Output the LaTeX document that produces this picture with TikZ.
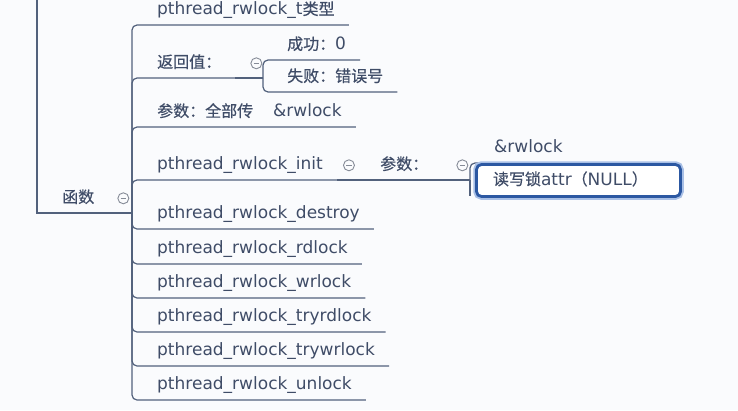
\documentclass[tikz,border=0pt]{standalone}
\usepackage{fontspec}
\setmainfont{DejaVu Sans}
\newfontfamily\cjk[FakeBold=0.4]{Noto Sans CJK SC}
\usetikzlibrary{positioning,backgrounds}

\definecolor{linecol}{HTML}{52617C}
\definecolor{textcol}{HTML}{3F4C67}
\definecolor{foldcol}{HTML}{858B97}
\definecolor{selblue}{HTML}{2C58A2}
\definecolor{glowblue}{HTML}{A9C0E6}
\definecolor{bgcol}{HTML}{FAFBFD}
\newcommand{\zh}[1]{{\cjk\fontsize{16}{20}\selectfont #1}}

\begin{document}
\begin{tikzpicture}[x=1pt, y=-1pt,
    topic/.style = {anchor=south west, inner xsep=14pt, inner ysep=8pt, text height=12pt, text depth=3pt, text=textcol, font=\fontsize{17}{20}\selectfont},
    fold/.style = {circle, draw=foldcol, line width=0.9pt, minimum size=11pt, inner sep=0pt,
        path picture={\draw[foldcol, line width=0.9pt] ([xshift=-2.8pt]path picture bounding box.center) -- ([xshift=2.8pt]path picture bounding box.center);}},
    selected/.style = {topic, outer sep=0pt, draw=selblue, line width=2.8pt, rounded corners=5pt, fill=white, preaction={draw=glowblue, line width=6.5pt},
        text width=171pt, inner xsep=16.5pt, minimum height=32pt, align=left},
    link/.style = {draw=linecol, line width=1.2pt, rounded corners=5pt}]
    \useasboundingbox (0,0) rectangle (738,410);

    % junctions
    \coordinate (up) at (37,-2);
    \coordinate (fnj) at (132,213);
    \coordinate (retj) at (263,78);
    \coordinate (argj) at (470,180);

    % left branch
    \node[topic] (fn) at (48,214) {\zh{函数}};
    \node[fold] (fnfold) [right=9pt of fn.east] {};

    \node[topic] (ttype) at (143,26) {pthread\_rwlock\_t\zh{类型}};
    \node[topic] (ret) at (143,79) {\zh{返回值：}};
    \node[fold] (retfold) [right=15pt of ret.east] {};
    \node[topic] (ok) at (273,61) {\zh{成功：}0};
    \node[topic] (fail) at (273,93) {\zh{失败：错误号}};
    \node[topic] (arg) at (143,128) {\zh{参数：全部传}\hspace{20pt}\&rwlock};
    \node[topic] (init) at (143,181) {pthread\_rwlock\_init};
    \node[fold] (initfold) [right=6pt of init.east] {};
    \node[topic] (initarg) at (366,181) {\zh{参数：}};
    \node[fold] (argfold) [right=14pt of initarg.east] {};
    \node[topic] (amp) at (480,164) {\&rwlock};

    \foreach \name/\y in {destroy/230, rdlock/265, wrlock/299, tryrdlock/333, trywrlock/367, unlock/401}
        \node[topic] (\name) at (143,\y) {pthread\_rwlock\_\name};

    \begin{pgfonlayer}{background}
        \fill[bgcol] (0,0) rectangle (738,410);
        \draw[link, rounded corners=0pt] (up) |- (fnj);
        \foreach \n in {ttype, ret, arg, init, destroy, rdlock, wrlock, tryrdlock, trywrlock, unlock}
            \draw[link] (fnj) |- ([yshift=1pt]\n.south east);
        \draw[link] ([yshift=1pt]ret.south east) -- (retj);
        \draw[link] (retj) |- ([yshift=1pt]ok.south east);
        \draw[link] (retj) |- ([yshift=1pt]fail.south east);
        \draw[link] ([yshift=1pt]init.south east) -- (argj);
        \draw[link] (argj) |- ([yshift=1pt]amp.south east);
        \draw[link] (argj) |- ++(0,15.5);
    \end{pgfonlayer}

    % selected topic on top
    \node[selected] (attr) at (476.5,196.5) {\zh{读写锁}attr\zh{（}NULL\zh{）}};
\end{tikzpicture}
\end{document}
